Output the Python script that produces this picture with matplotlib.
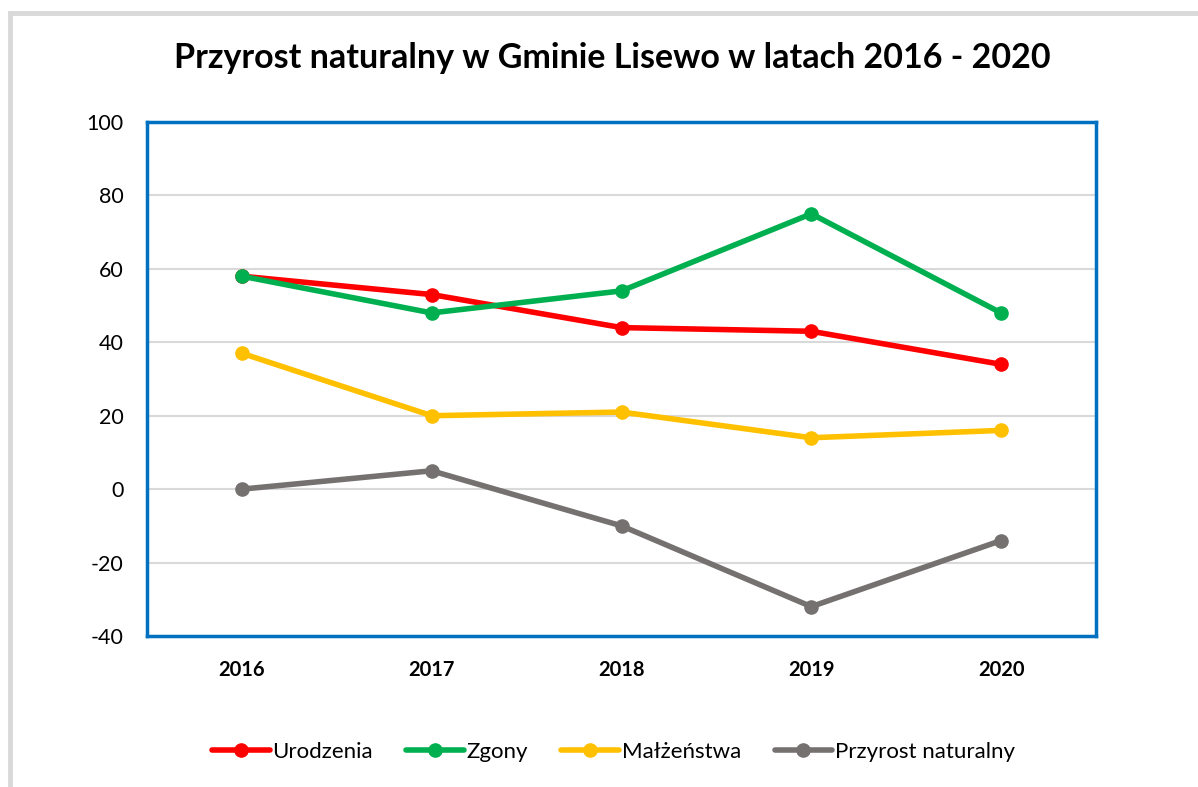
import matplotlib.pyplot as plt
from matplotlib.patches import Rectangle

# data
years = ['2016', '2017', '2018', '2019', '2020']
urodzenia = [58, 53, 44, 43, 34]
zgony = [58, 48, 54, 75, 48]
malzenstwa = [37, 20, 21, 14, 16]
przyrost = [0, 5, -10, -32, -14]

series = [
  ('Urodzenia', urodzenia, '#FF0000'),
  ('Zgony', zgony, '#00B050'),
  ('Małżeństwa', malzenstwa, '#FFC000'),
  ('Przyrost naturalny', przyrost, '#767171'),
]

plt.rcParams['font.family'] = ['Lato', 'DejaVu Sans']
plt.rcParams['axes.unicode_minus'] = False

fig = plt.figure(figsize=(11.98, 7.87), dpi=100)

# outer chart frame (cropped)
fig.patches.append(Rectangle((9.5 / 1198, -0.05), 1.2, (787 - 12.5) / 787 + 0.05,
                             transform=fig.transFigure, fill=False,
                             edgecolor='#D9D9D9', linewidth=3.5))

ax = fig.add_axes([147 / 1198, 151 / 787, 949 / 1198, 514 / 787])

x = range(len(years))
for name, vals, color in series:
  ax.plot(x, vals, color=color, lw=4, marker='o', ms=9.5, label=name,
          solid_capstyle='round')

ax.set_xlim(-0.5, len(years) - 0.5)
ax.set_ylim(-40, 100)
ax.set_yticks(range(-40, 101, 20))
ax.set_xticks(list(x))
ax.set_xticklabels(years, fontsize=14.5, fontweight='bold')
ax.tick_params(axis='y', labelsize=15.5, length=0, pad=17)
ax.tick_params(axis='x', length=0, pad=17)
ax.grid(axis='y', color='#D9D9D9', lw=1.5)
ax.set_axisbelow(True)
for sp in ax.spines.values():
  sp.set_color('#0070C0')
  sp.set_linewidth(2.5)

fig.text(0.511, 1 - 58 / 787, 'Przyrost naturalny w Gminie Lisewo w latach 2016 - 2020',
         ha='center', va='center', fontsize=24.5, fontweight='bold')

fig.legend(loc='center', bbox_to_anchor=(0.512, 1 - 752 / 787), ncol=4,
           frameon=False, fontsize=16, handlelength=2.6, handletextpad=0.12,
           columnspacing=1.5)

fig.savefig('out.png', dpi=100)
